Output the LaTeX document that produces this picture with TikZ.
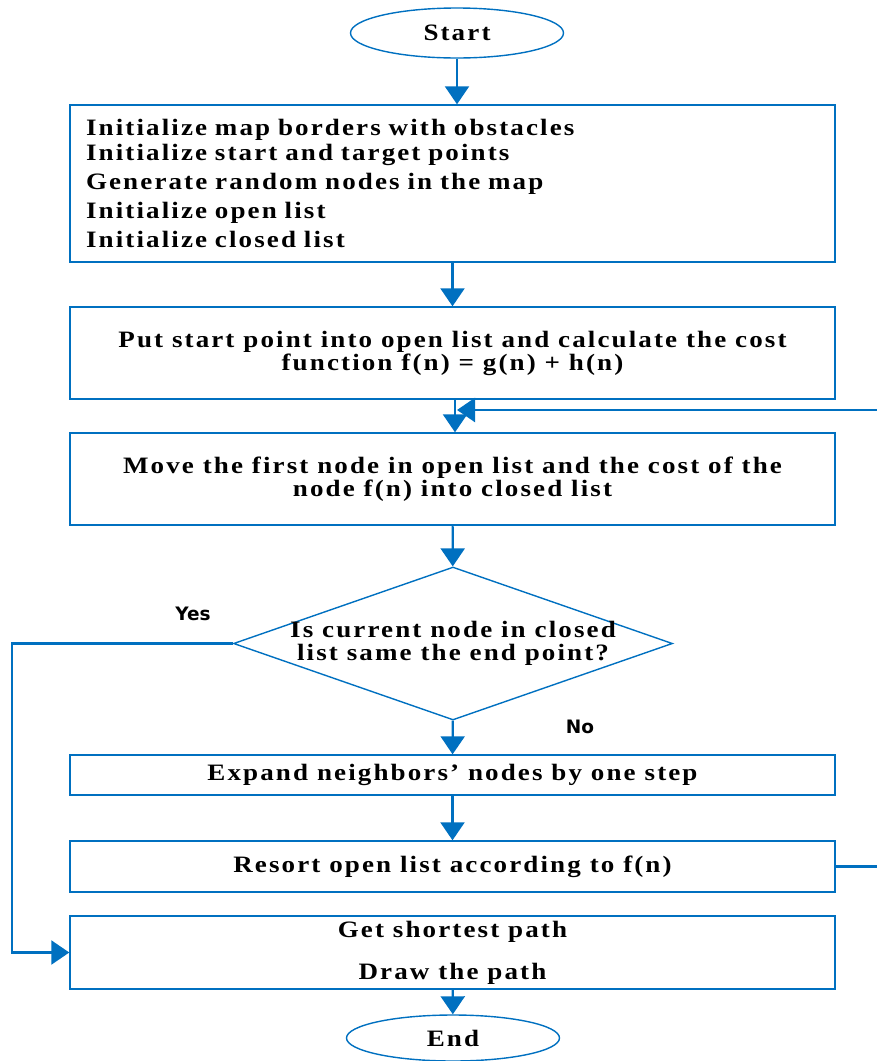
\documentclass[tikz,border=0pt]{standalone}
\usepackage{fontspec}
\setmainfont[LetterSpace=9,FakeStretch=1.15]{Liberation Serif}
\newfontfamily\labelfont{DejaVu Sans}
\usetikzlibrary{shapes.geometric,arrows.meta}
\definecolor{flowblue}{RGB}{0,112,192}

\begin{document}
\begin{tikzpicture}[x=1pt,y=-1pt,
  box/.style={draw=flowblue,line width=1.4pt,minimum width=765pt,inner sep=0pt,
    align=center,font=\bfseries\fontsize{23.5}{23}\selectfont},
  term/.style={draw=flowblue,ellipse,line width=1.4pt,minimum width=213pt,
    minimum height=50pt,inner sep=0pt,font=\bfseries\fontsize{23.5}{23}\selectfont},
  decision/.style={draw=flowblue,diamond,aspect=2.87,line width=1.4pt,minimum width=439pt,
    minimum height=153pt,inner sep=-10pt,align=center,
    font=\bfseries\fontsize{23.5}{23}\selectfont},
  answer/.style={font=\labelfont\bfseries\fontsize{18.5}{20}\selectfont},
  flow/.style={draw=flowblue,line width=2.2pt,-{Triangle[length=18pt,width=24pt]}}]
\useasboundingbox (0,0) rectangle (877,1061);

% terminals and steps
\node [term, name=start] at (457,33) {Start};
\node [box, minimum height=157pt, text width=733pt, inner xsep=16pt, align=left,
  font=\bfseries\fontsize{23.5}{29}\selectfont, name=init] at (452.5,183.5)
  {Initialize map borders with obstacles\\[-4pt]
   Initialize start and target points\\
   Generate random nodes in the map\\
   Initialize open list\\
   Initialize closed list};
\node [box, minimum height=92pt, name=put] at (452.5,353)
  {Put start point into open list and calculate the cost\\
   function f(n) = g(n) + h(n)};
\node [box, minimum height=92pt, name=move] at (452.5,479)
  {Move the first node in open list and the cost of the\\
   node f(n) into closed list};
\node [decision, name=check] at (453,643.5)
  {Is current node in closed\\ list same the end point?};
\node [box, minimum height=40pt, name=expand] at (452.5,775) {Expand neighbors' nodes by one step};
\node [box, minimum height=51pt, name=resort] at (452.5,866.5) {Resort open list according to f(n)};
\node [box, minimum height=73pt, font=\bfseries\fontsize{23.5}{42}\selectfont, name=path] at (452.5,952.5)
  {Get shortest path\\ Draw the path};
\node [term, minimum height=46pt, name=finish] at (453,1038) {End};

\node [answer, name=yes] at (193,614) {Yes};
\node [answer, name=no] at (580,727) {No};

\coordinate (yesturn) at (12,643.5);
\coordinate (loopturn) at (900,866.5);
\coordinate (loopin) at (457,410);

% connectors
\draw [flow] (start.south) -- (start.south |- init.north);
\draw [flow] (init) -- (put);
\draw [flow] (put.south -| 455,0) -- (move.north -| 455,0);
\draw [flow] (move) -- (check);
\draw [flow] (check) -- (expand);
\draw [flow] (expand) -- (resort);
\draw [flow] (path) -- (finish);
\draw [flow] (check.west) -- (yesturn) |- (path.west);
\draw [flow] (resort.east) -- (loopturn) |- (loopin);
\end{tikzpicture}
\end{document}
